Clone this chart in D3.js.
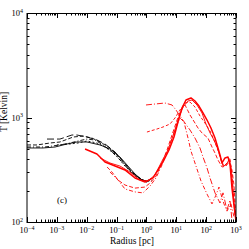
<!DOCTYPE html>
<html>
<head>
<meta charset="utf-8">
<script src="https://cdn.jsdelivr.net/npm/d3@7"></script>
<style>
body { margin: 0; background: #fff; }
text { font-family: "Liberation Serif", "DejaVu Serif", serif; fill: #000; }
</style>
</head>
<body>
<div id="chart"></div>
<script>
// black runs (radius in pc, temperature in K)
var b1_r = [1e-4, 3.44e-4, 8.7e-4, 2.19e-3, 4.7e-3, 1.02e-2, 2.8e-2, 6.0e-2, 0.13, 0.241, 0.414, 0.71, 1.04, 1.42];
var b1_T = [511, 511, 522, 558, 583, 583, 546, 500, 419, 343, 288, 252, 247, 258];
var b2_r = [1e-4, 2.16e-4, 5.9e-4, 1.27e-3, 3.5e-3, 7.5e-3, 1.5e-2, 2.8e-2, 6.0e-2, 0.13, 0.281, 0.521, 0.895, 1.32];
var b2_T = [546, 546, 570, 583, 650, 665, 636, 583, 511, 410, 315, 270, 247, 252];
var b3_r = [4.68e-4, 1.27e-3, 3.2e-3, 4.7e-3, 1.02e-2, 2.2e-2, 4.1e-2, 8.9e-2, 0.191, 0.355, 0.608, 1.04];
var b3_T = [622, 622, 680, 680, 650, 609, 558, 468, 359, 294, 258, 241];
var b4_r = [1e-4, 4.0e-4, 1.27e-3, 2.75e-3, 5.1e-3, 1.02e-2, 1.9e-2, 3.5e-2, 7.0e-2, 0.152, 0.304, 0.563, 0.967, 1.53];
var b4_T = [522, 522, 546, 570, 596, 622, 609, 546, 468, 375, 301, 264, 241, 252];
var b5_r = [1e-3, 2.75e-3, 5.1e-3, 1.02e-2, 2.2e-2, 4.1e-2, 8.9e-2, 0.191, 0.414, 0.895];
var b5_T = [546, 558, 570, 596, 570, 522, 448, 343, 275, 241];

// red runs
var r1_r = [8.8e-3, 2.2e-2, 4.1e-2, 8.9e-2, 0.191, 0.414, 0.895, 1.66, 2.44, 3.87, 5.70, 8.38, 11.4, 15.5, 21.1, 31.0, 42.3, 57.5, 78.4, 107, 145, 198, 249, 291, 340, 428, 539, 629, 733, 855, 1000];
var r1_T = [500, 448, 375, 343, 315, 264, 241, 264, 315, 392, 489, 650, 906, 1233, 1470, 1538, 1438, 1288, 1105, 946, 794, 636, 511, 438, 367, 410, 419, 359, 211, 145, 102];
var r2_r = [2.8e-2, 6.0e-2, 0.13, 0.281, 0.608, 1.13, 1.94, 3.32, 5.27, 7.76, 11.4, 16.8, 24.7, 33.6, 49.3, 72.6, 98.8, 135, 183, 231, 291, 367, 462, 582, 679, 792, 924];
var r2_T = [410, 367, 343, 301, 252, 247, 282, 383, 489, 665, 946, 1260, 1438, 1470, 1318, 1105, 866, 711, 609, 522, 428, 343, 351, 392, 343, 202, 117];
var r3_r = [4.8e-2, 7.0e-2, 0.112, 0.191, 0.414, 0.895, 1.32, 2.09, 3.32, 4.89, 7.18, 10.6, 14.4, 19.6, 28.8, 42.3, 53.3, 72.6, 115, 157, 198, 249, 340, 462, 582, 733, 855, 1000];
var r3_T = [336, 301, 252, 226, 211, 216, 236, 275, 367, 489, 680, 946, 1180, 1318, 1057, 885, 794, 711, 636, 522, 457, 392, 336, 343, 375, 315, 226, 104];
var r4_r = [6.0e-2, 0.112, 0.191, 0.414, 0.767, 1.32, 2.09, 3.32, 5.27, 7.18, 9.78, 13.3, 18.1, 24.7, 31.0, 45.7, 67.2, 107, 157, 214, 269, 340, 396, 499, 679, 855];
var r4_T = [301, 252, 207, 194, 190, 221, 264, 351, 489, 636, 811, 989, 906, 636, 478, 343, 247, 185, 149, 181, 216, 170, 149, 127, 149, 112];
var r5_r = [0.967, 1.94, 4.19, 7.18, 9.78, 13.3, 19.6, 28.8, 42.3, 62.2, 78.4, 107, 135, 198, 291, 367, 499, 629, 733];
var r5_T = [1318, 1346, 1376, 1318, 1180, 1033, 885, 759, 636, 511, 419, 329, 264, 190, 152, 190, 130, 162, 104];
var r6_r = [1.04, 2.26, 3.59, 6.15, 9.05, 13.3, 19.6, 28.8, 42.3, 62.2, 91.5, 135, 183, 249, 314, 396, 499, 629, 733, 855, 1000];
var r6_T = [726, 776, 811, 866, 989, 1180, 1376, 1406, 1260, 1033, 885, 743, 609, 489, 392, 343, 367, 410, 282, 162, 104];

var x_decades = [-4, -3, -2, -1, 0, 1, 2, 3];
var y_decades = [2, 3, 4];

var chart_width = 249, chart_height = 249;
var pl = 27, pr = 236, pt = 13, pb = 222;

var svg = d3.select("#chart")
	.append("svg")
		.attr("width", chart_width)
		.attr("height", chart_height);

var x = d3.scaleLog().domain([1e-4, 1e3]).range([pl, pr]);
var y = d3.scaleLog().domain([1e2, 1e4]).range([pb, pt]);

svg.append("clipPath").attr("id", "plotclip")
	.append("rect")
		.attr("x", pl).attr("y", pt)
		.attr("width", pr - pl).attr("height", pb - pt);

var line = d3.line()
	.x(function(d) { return x(d[0]); })
	.y(function(d) { return y(d[1]); });

var runs = [
	{r: b1_r, T: b1_T, color: "#000", w: 0.9, dash: null},
	{r: b2_r, T: b2_T, color: "#000", w: 0.9, dash: "4,2"},
	{r: b3_r, T: b3_T, color: "#000", w: 0.9, dash: "7,3"},
	{r: b4_r, T: b4_T, color: "#000", w: 0.9, dash: "4,2,1,2"},
	{r: b5_r, T: b5_T, color: "#000", w: 0.9, dash: "2,2"},
	{r: r3_r, T: r3_T, color: "#f00", w: 0.9, dash: "4,2"},
	{r: r4_r, T: r4_T, color: "#f00", w: 0.9, dash: "4,2,1,2"},
	{r: r5_r, T: r5_T, color: "#f00", w: 0.9, dash: "6,2,1,2"},
	{r: r6_r, T: r6_T, color: "#f00", w: 0.9, dash: "3,2"},
	{r: r2_r, T: r2_T, color: "#f00", w: 0.9, dash: null},
	{r: r1_r, T: r1_T, color: "#f00", w: 1.5, dash: null}
];

svg.append("g")
	.attr("clip-path", "url(#plotclip)")
	.selectAll("path")
	.data(runs)
	.enter()
	.append("path")
	.attr("d", function(d) { return line(d3.zip(d.r, d.T)); })
	.attr("fill", "none")
	.attr("stroke", function(d) { return d.color; })
	.attr("stroke-width", function(d) { return d.w; })
	.attr("stroke-dasharray", function(d) { return d.dash; })
	.attr("stroke-linejoin", "round");

// frame: top/bottom crisp, sides on whole pixels like the original
var fr = svg.append("g").attr("stroke", "#000").attr("stroke-width", 1);
fr.append("line").attr("x1", pl).attr("x2", pr).attr("y1", pt + 0.5).attr("y2", pt + 0.5);
fr.append("line").attr("x1", pl).attr("x2", pr).attr("y1", pb + 0.5).attr("y2", pb + 0.5);
fr.append("line").attr("x1", pl).attr("x2", pl).attr("y1", pt).attr("y2", pb + 1);
fr.append("line").attr("x1", pr).attr("x2", pr).attr("y1", pt).attr("y2", pb + 1);

// ticks, inward on all sides
var xt = x.ticks();
var yt = y.ticks();
function isMajor(v) { return Math.abs(Math.log10(v) - Math.round(Math.log10(v))) < 1e-6; }

var tk = svg.append("g").attr("stroke", "#000").attr("stroke-width", 1);
xt.forEach(function(v) {
	var len = isMajor(v) ? 5 : 2.5;
	var px = Math.round(x(v)) + 0.5;
	tk.append("line").attr("x1", px).attr("x2", px).attr("y1", pb).attr("y2", pb - len);
	tk.append("line").attr("x1", px).attr("x2", px).attr("y1", pt).attr("y2", pt + len);
});
yt.forEach(function(v) {
	var len = isMajor(v) ? 5 : 2.5;
	var py = Math.round(y(v)) + 0.5;
	tk.append("line").attr("x1", pl).attr("x2", pl + len).attr("y1", py).attr("y2", py);
	tk.append("line").attr("x1", pr).attr("x2", pr - len).attr("y1", py).attr("y2", py);
});

// tick labels
svg.selectAll("text.xl")
	.data(x_decades)
	.enter()
	.append("text")
	.attr("class", "xl")
	.attr("x", function(d) { return x(Math.pow(10, d)); })
	.attr("y", 233)
	.attr("text-anchor", "middle")
	.attr("font-size", 8.5)
	.each(function(d) {
		var t = d3.select(this);
		t.append("tspan").text("10");
		t.append("tspan").attr("dy", -3.5).attr("font-size", 6).text(d < 0 ? "\u2212" + (-d) : d);
	});

svg.selectAll("text.yl")
	.data(y_decades)
	.enter()
	.append("text")
	.attr("class", "yl")
	.attr("x", 23)
	.attr("y", function(d) { return y(Math.pow(10, d)) + 3; })
	.attr("text-anchor", "end")
	.attr("font-size", 8.5)
	.each(function(d) {
		var t = d3.select(this);
		t.append("tspan").text("10");
		t.append("tspan").attr("dy", -3.5).attr("font-size", 6).text(d);
	});

svg.append("text")
	.attr("x", 132)
	.attr("y", 244)
	.attr("text-anchor", "middle")
	.attr("font-size", 9.5)
	.text("Radius [pc]");

svg.append("text")
	.attr("transform", "translate(7,112) rotate(-90)")
	.attr("text-anchor", "middle")
	.attr("font-size", 9.5)
	.text("T [Kelvin]");

svg.append("text")
	.attr("x", 62)
	.attr("y", 203)
	.attr("text-anchor", "middle")
	.attr("font-size", 9)
	.text("(c)");
</script>
</body>
</html>
